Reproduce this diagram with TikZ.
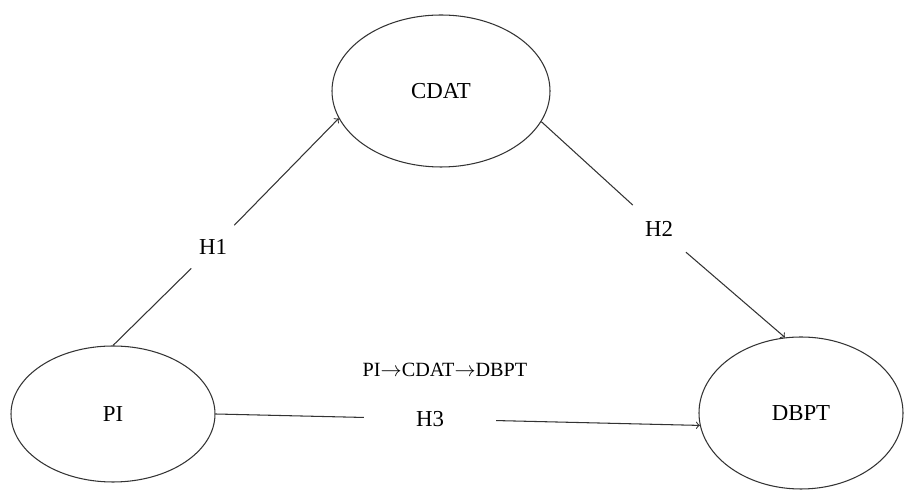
\documentclass[tikz,border=0pt]{standalone}
\usepackage{fontspec}
\setmainfont{Liberation Serif}
\usetikzlibrary{shapes.geometric, positioning}

\begin{document}
\begin{tikzpicture}[>=to, line width=0.6pt,
    every edge/.style={draw=black!80},
    var/.style={ellipse, draw=black!80, inner sep=0pt, font=\fontsize{13}{15}\selectfont},
    hyp/.style={circle, inner sep=0pt, font=\fontsize{13}{15}\selectfont}]

    \useasboundingbox (0,0) rectangle (18.12,9.82);

    \node [var, minimum width=4.08cm, minimum height=2.72cm] (PI) at (2.26 , 1.54) {PI};
    \node [var, minimum width=4.36cm, minimum height=3.04cm] (CDAT) at (8.82 , 8.00) {CDAT};
    \node [var, minimum width=4.08cm, minimum height=3.04cm] (DBPT) at (16.02 , 1.56) {DBPT};

    \node [hyp, minimum size=1.2cm] (h1) at (4.26 , 4.88) {H1};
    \node [hyp, minimum size=1.4cm] (h2) at (13.18 , 5.24) {H2};
    \node [hyp, rectangle, minimum width=2.62cm, minimum height=0.6cm] (h3) at (8.60 , 1.44) {H3};
    \node [font=\fontsize{11.5}{13}\selectfont] (med) at (8.90 , 2.42) {PI${\to}$CDAT${\to}$DBPT};

 \path[->]
      (PI.north) edge[-] (h1)
      (h1) edge (CDAT.195)
      (CDAT.343) edge[-] (h2)
      (h2) edge (DBPT.102)
      (PI.east) edge[-] (h3)
      (h3) edge (DBPT.187);
\end{tikzpicture}
\end{document}
